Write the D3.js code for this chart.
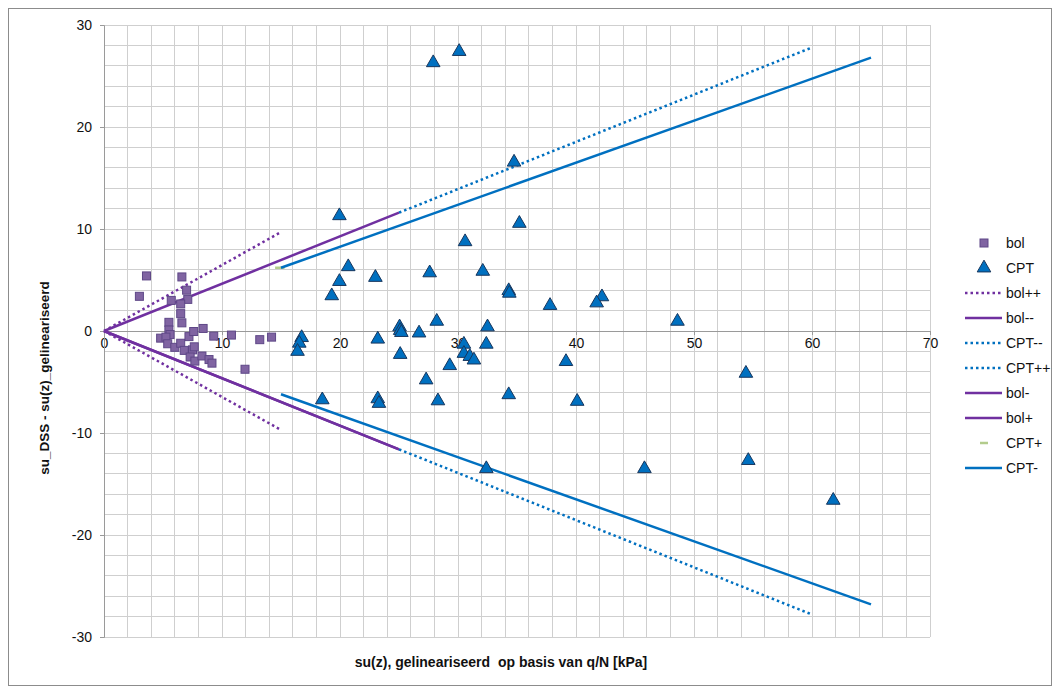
<!DOCTYPE html>
<html>
<head>
<meta charset="utf-8">
<script src="https://cdn.jsdelivr.net/npm/d3@7"></script>
<style>
  html, body { margin: 0; padding: 0; background: #fff; }
  svg { display: block; font-family: "Liberation Sans", Arial, sans-serif; }
  text { white-space: pre; }
</style>
</head>
<body>
<svg id="chart" width="1060" height="694"></svg>
<script>
// Measured points: lab shear strength minus linearised su(z)
const bolX = [3.6, 6.6, 3.0, 7.0, 7.1, 5.7, 6.5, 6.5, 6.6, 5.5, 5.5, 5.6, 4.8, 5.25, 5.4, 6.0, 6.5, 7.2, 7.6, 8.4, 9.3, 10.8, 13.2, 14.2, 6.8, 7.5, 7.65, 7.3, 7.7, 8.3, 8.9, 9.15, 11.95];
const bolY = [5.4, 5.3, 3.4, 4.0, 3.1, 3.0, 2.65, 1.7, 0.8, 0.85, 0.1, -0.35, -0.7, -0.6, -1.25, -1.6, -1.2, -0.55, -0.05, 0.25, -0.5, -0.4, -0.85, -0.6, -1.9, -1.85, -1.55, -2.55, -2.95, -2.45, -2.8, -3.15, -3.75];

const cptX = [27.9, 30.1, 34.75, 19.95, 35.2, 30.6, 20.7, 23.0, 27.6, 32.1, 19.95, 19.3, 34.3, 34.35, 37.8, 42.2, 41.75, 48.6, 28.2, 25.05, 25.1, 25.2, 26.7, 32.5, 16.75, 16.55, 16.4, 23.2, 30.5, 30.5, 31.0, 31.35, 32.4, 25.1, 29.3, 27.3, 39.15, 18.5, 23.2, 23.3, 28.3, 34.3, 40.1, 54.4, 32.4, 45.8, 54.6, 61.8];
const cptY = [26.3, 27.4, 16.55, 11.3, 10.55, 8.75, 6.3, 5.25, 5.7, 5.85, 4.85, 3.45, 3.95, 3.7, 2.5, 3.35, 2.75, 0.95, 0.95, 0.4, 0.05, -0.15, -0.2, 0.4, -0.65, -1.2, -2.0, -0.8, -1.3, -2.2, -2.5, -2.85, -1.3, -2.3, -3.4, -4.8, -3.0, -6.75, -6.65, -7.1, -6.85, -6.25, -6.9, -4.15, -13.5, -13.5, -12.7, -16.6];

// Envelope lines, one entry per series; each series is a list of [x, y] segments
const lineNames = ["bol++", "bol--", "CPT--", "CPT++", "bol-", "bol+", "CPT+", "CPT-"];
const lineSegments = [
  [[[0, 0], [15, 9.7]], [[0, 0], [15, -9.7]]],
  [[[0, 0], [25, -11.6]]],
  [[[25, -11.6], [60, -27.8]]],
  [[[25, 11.6], [60, 27.8]]],
  [[[0, 0], [25, -11.6]]],
  [[[0, 0], [25, 11.6]]],
  [[[14.5, 6.2], [15.3, 6.2]]],
  [[[15, 6.2], [65, 26.8]], [[15, -6.2], [65, -26.8]]]
];
const lineColors = ["#7030a0", "#7030a0", "#0070c0", "#0070c0", "#7030a0", "#7030a0", "#b3cc8c", "#0070c0"];
const lineDotted = [true, false, true, true, false, false, false, false];

const xTicks = [0, 10, 20, 30, 40, 50, 60, 70];
const yTicks = [-30, -20, -10, 0, 10, 20, 30];
const xTitle = "su(z), gelineariseerd  op basis van q/N [kPa]";
const yTitle = "su_DSS - su(z)_gelineariseerd";

const svg = d3.select("#chart");

// outer chart frame
svg.append("rect").attr("x", 8.5).attr("y", 8.5).attr("width", 1043).attr("height", 677)
  .attr("fill", "#fff").attr("stroke", "#8c8c8c").attr("stroke-width", 1);

const x = d3.scaleLinear().domain([0, 70]).range([104, 930]);
const y = d3.scaleLinear().domain([-30, 30]).range([637, 25]);

// gridlines every 2 units
const grid = svg.append("g").attr("stroke", "#cfcfcf").attr("stroke-width", 1).attr("shape-rendering", "crispEdges");
grid.selectAll("line.v").data(d3.range(0, 70.01, 2)).join("line")
  .attr("x1", d => x(d)).attr("x2", d => x(d)).attr("y1", y(30)).attr("y2", y(-30));
grid.selectAll("line.h").data(d3.range(-30, 30.01, 2)).join("line")
  .attr("x1", x(0)).attr("x2", x(70)).attr("y1", d => y(d)).attr("y2", d => y(d));

// axes crossing at the origin; plain hyphen for negative labels
const plain = d => String(d);
const xAxis = svg.append("g").attr("transform", `translate(0,${y(0)})`)
  .call(d3.axisBottom(x).tickValues(xTicks).tickSize(4).tickPadding(3).tickFormat(plain));
const yAxis = svg.append("g").attr("transform", `translate(${x(0)},0)`)
  .call(d3.axisLeft(y).tickValues(yTicks).tickSize(4).tickPadding(8).tickFormat(plain));
[xAxis, yAxis].forEach(a => {
  a.select(".domain").attr("stroke", "#9a9a9a");
  a.selectAll(".tick line").attr("stroke", "#9a9a9a");
  a.selectAll(".tick text").attr("fill", "#111").attr("font-size", 14)
    .attr("font-family", "'Liberation Sans', Arial, sans-serif");
});

// envelope lines
const lineGen = d3.line().x(d => x(d[0])).y(d => y(d[1]));
const lines = svg.append("g").attr("fill", "none");
lineSegments.forEach((segs, i) => {
  segs.forEach(seg => {
    lines.append("path").attr("d", lineGen(seg))
      .attr("stroke", lineColors[i]).attr("stroke-width", 2.5)
      .attr("stroke-dasharray", lineDotted[i] ? "2.5,3" : null);
  });
});

// bol markers (squares)
const sq = 8;
svg.append("g").selectAll("rect").data(bolX.map((v, i) => [v, bolY[i]])).join("rect")
  .attr("x", d => x(d[0]) - sq / 2).attr("y", d => y(d[1]) - sq / 2)
  .attr("width", sq).attr("height", sq)
  .attr("fill", "#8064a2").attr("stroke", "#5e4787").attr("stroke-width", 1);

// CPT markers (triangles)
const tri = d3.symbol().type(d3.symbolTriangle).size(80);
svg.append("g").selectAll("path").data(cptX.map((v, i) => [v, cptY[i]])).join("path")
  .attr("d", tri).attr("transform", d => `translate(${x(d[0])},${y(d[1])})`)
  .attr("fill", "#0070c0").attr("stroke", "#17365d").attr("stroke-width", 1);

// axis titles
svg.append("text").attr("x", 501).attr("y", 667).attr("text-anchor", "middle")
  .attr("font-size", 14).attr("font-weight", "bold").attr("fill", "#111").text(xTitle);
svg.append("text").attr("transform", "translate(49,378) rotate(-90)").attr("text-anchor", "middle")
  .attr("font-size", 13.5).attr("font-weight", "bold").attr("fill", "#111").text(yTitle);

// legend
const legendNames = ["bol", "CPT"].concat(lineNames);
const lg = svg.append("g");
legendNames.forEach((name, i) => {
  const cy = 243 + i * 25;
  const row = lg.append("g");
  if (name === "bol") {
    row.append("rect").attr("x", 980).attr("y", cy - 4).attr("width", 8).attr("height", 8)
      .attr("fill", "#8064a2").attr("stroke", "#5e4787");
  } else if (name === "CPT") {
    row.append("path").attr("d", tri).attr("transform", `translate(984,${cy})`)
      .attr("fill", "#0070c0").attr("stroke", "#17365d");
  } else {
    const k = lineNames.indexOf(name);
    const stub = name === "CPT+";
    row.append("line")
      .attr("x1", stub ? 980 : 965).attr("x2", stub ? 988 : 1002)
      .attr("y1", cy).attr("y2", cy)
      .attr("stroke", lineColors[k]).attr("stroke-width", 2.5)
      .attr("stroke-dasharray", lineDotted[k] ? "2.5,3" : null);
  }
  row.append("text").attr("x", 1006).attr("y", cy + 5)
    .attr("font-size", 14).attr("fill", "#111").text(name);
});
</script>
</body>
</html>
